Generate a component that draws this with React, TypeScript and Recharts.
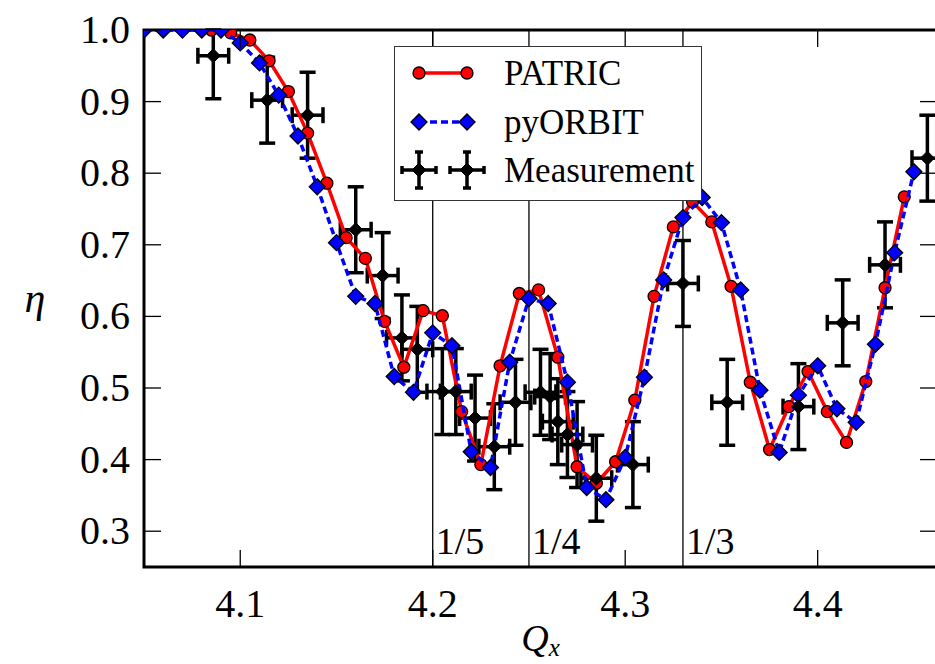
import React from 'react';
import { ScatterChart, Scatter, XAxis, YAxis, ReferenceLine, ReferenceArea, ErrorBar, Legend } from 'recharts';

// PATRIC simulation (red circles, solid line)
const patricQx = [
  4.085, 4.095, 4.105, 4.115, 4.125, 4.135, 4.145, 4.155, 4.165, 4.175,
  4.185, 4.195, 4.205, 4.215, 4.225, 4.235, 4.245, 4.255, 4.265, 4.275,
  4.285, 4.295, 4.305, 4.315, 4.325, 4.335, 4.345, 4.355, 4.365, 4.375,
  4.385, 4.395, 4.405, 4.415, 4.425, 4.435, 4.445,
];
const patricEta = [
  1.0, 0.996, 0.986, 0.957, 0.914, 0.856, 0.786, 0.71, 0.681, 0.593,
  0.529, 0.608, 0.601, 0.467, 0.393, 0.531, 0.632, 0.637, 0.543, 0.39,
  0.367, 0.397, 0.483, 0.628, 0.725, 0.76, 0.732, 0.642, 0.508, 0.414,
  0.474, 0.523, 0.467, 0.424, 0.509, 0.64, 0.767,
];

// pyORBIT simulation (blue diamonds, dashed line)
const pyorbitQx = [
  4.05, 4.06, 4.07, 4.08, 4.09, 4.1, 4.11, 4.12, 4.13, 4.14,
  4.15, 4.16, 4.17, 4.18, 4.19, 4.2, 4.21, 4.22, 4.23, 4.24,
  4.25, 4.26, 4.27, 4.28, 4.29, 4.3, 4.31, 4.32, 4.33, 4.34,
  4.35, 4.36, 4.37, 4.38, 4.39, 4.4, 4.41, 4.42, 4.43, 4.44, 4.45,
];
const pyorbitEta = [
  1.0, 1.0, 1.0, 1.0, 1.0, 0.982, 0.954, 0.909, 0.852, 0.781,
  0.703, 0.628, 0.618, 0.516, 0.494, 0.577, 0.559, 0.411, 0.389, 0.536,
  0.625, 0.618, 0.508, 0.361, 0.344, 0.403, 0.515, 0.651, 0.738, 0.766,
  0.731, 0.637, 0.497, 0.41, 0.49, 0.531, 0.471, 0.452, 0.561, 0.689, 0.802,
];

// Measured points with errors in both directions (eta cannot exceed 1)
const measQx = [
  4.086, 4.114, 4.135, 4.16, 4.174, 4.184, 4.192, 4.205, 4.212, 4.222,
  4.232, 4.243, 4.256, 4.261, 4.265, 4.27, 4.275, 4.285, 4.304, 4.33,
  4.353, 4.39, 4.413, 4.435, 4.457,
];
const measEta = [
  0.964, 0.902, 0.881, 0.721, 0.657, 0.57, 0.554, 0.495, 0.495, 0.458,
  0.418, 0.48, 0.494, 0.488, 0.453, 0.435, 0.421, 0.374, 0.393, 0.646,
  0.48, 0.474, 0.591, 0.672, 0.821,
];
const measQxErr = [
  0.008, 0.008, 0.008, 0.008, 0.008, 0.008, 0.008, 0.008, 0.008, 0.008,
  0.008, 0.008, 0.008, 0.008, 0.008, 0.008, 0.008, 0.008, 0.008, 0.008,
  0.008, 0.008, 0.008, 0.008, 0.008,
];
const measEtaErrLow = [
  0.06, 0.06, 0.06, 0.06, 0.06, 0.06, 0.06, 0.06, 0.06, 0.06,
  0.06, 0.06, 0.06, 0.06, 0.06, 0.06, 0.06, 0.06, 0.06, 0.06,
  0.06, 0.06, 0.06, 0.06, 0.06,
];
const measEtaErrHigh = [
  0.036, 0.06, 0.06, 0.06, 0.06, 0.06, 0.06, 0.06, 0.06, 0.06,
  0.06, 0.06, 0.06, 0.06, 0.06, 0.06, 0.06, 0.06, 0.06, 0.06,
  0.06, 0.06, 0.06, 0.06, 0.06,
];

const resonanceQx = [4.2, 4.25, 4.33];
const resonanceLabels = ['1/5', '1/4', '1/3'];

const xTicks = [4.1, 4.2, 4.3, 4.4];
const yTicks = [0.3, 0.4, 0.5, 0.6, 0.7, 0.8, 0.9, 1.0];

const patric = patricQx.map((qx, i) => ({ qx, eta: patricEta[i] }));
const pyorbit = pyorbitQx.map((qx, i) => ({ qx, eta: pyorbitEta[i] }));
const measurement = measQx.map((qx, i) => ({
  qx,
  eta: measEta[i],
  qxErr: measQxErr[i],
  etaErr: [measEtaErrLow[i], measEtaErrHigh[i]],
}));

const CHART_W = 940;
const CHART_H = 664;
const MARGIN = { top: 30, right: 3, bottom: 37, left: 0 };
const Y_AXIS_W = 144;
const X_AXIS_H = 60;
const PLOT = {
  left: MARGIN.left + Y_AXIS_W,
  right: CHART_W - MARGIN.right,
  top: MARGIN.top,
  bottom: CHART_H - MARGIN.bottom - X_AXIS_H,
};
const TICK_LEN = 17;
const SERIF = '"Liberation Serif", "Times New Roman", serif';

const diamondPoints = (cx: number, cy: number, h: number) =>
  `${cx},${cy - h} ${cx + h},${cy} ${cx},${cy + h} ${cx - h},${cy}`;

const RedCircle = ({ cx, cy }: any) => (
  <circle cx={cx} cy={cy} r={6} fill="#ff0000" stroke="#000" strokeWidth={1.3} />
);
const BlueDiamond = ({ cx, cy }: any) => (
  <polygon points={diamondPoints(cx, cy, 8)} fill="#0000ff" stroke="#000" strokeWidth={1.3} />
);
const BlackDiamond = ({ cx, cy }: any) => (
  <polygon points={diamondPoints(cx, cy, 7)} fill="#000" stroke="#000" strokeWidth={1} />
);

// ticks point inward on all four sides
const XTick = ({ x, payload }: any) => (
  <g>
    <line x1={x} x2={x} y1={PLOT.bottom} y2={PLOT.bottom - TICK_LEN} stroke="#000" strokeWidth={1.3} />
    <line x1={x} x2={x} y1={PLOT.top} y2={PLOT.top + TICK_LEN} stroke="#000" strokeWidth={1.3} />
    <text x={x} y={PLOT.bottom + 50} textAnchor="middle" fontFamily={SERIF} fontSize={40} fill="#000">
      {Number(payload.value).toFixed(1)}
    </text>
  </g>
);

const YTick = ({ y, payload }: any) => (
  <g>
    <line x1={PLOT.left} x2={PLOT.left + TICK_LEN} y1={y} y2={y} stroke="#000" strokeWidth={1.3} />
    <line x1={PLOT.right - TICK_LEN} x2={PLOT.right} y1={y} y2={y} stroke="#000" strokeWidth={1.3} />
    <text x={PLOT.left - 14} y={y + 13} textAnchor="end" fontFamily={SERIF} fontSize={40} fill="#000">
      {Number(payload.value).toFixed(1)}
    </text>
  </g>
);

const ResonanceLabel = (text: string) => (props: any) => {
  const x = props.viewBox ? props.viewBox.x : 0;
  return (
    <text x={x + 3} y={PLOT.bottom - 13} fontFamily={SERIF} fontSize={38} fill="#000">
      {text}
    </text>
  );
};

const MeasMarker = ({ cx, cy }: { cx: number; cy: number }) => (
  <g stroke="#000" strokeWidth={3.5}>
    <line x1={cx} x2={cx} y1={cy - 18} y2={cy + 18} />
    <line x1={cx - 17} x2={cx + 17} y1={cy} y2={cy} />
    <line x1={cx - 4} x2={cx + 4} y1={cy - 18} y2={cy - 18} />
    <line x1={cx - 4} x2={cx + 4} y1={cy + 18} y2={cy + 18} />
    <line x1={cx - 17} x2={cx - 17} y1={cy - 4} y2={cy + 4} />
    <line x1={cx + 17} x2={cx + 17} y1={cy - 4} y2={cy + 4} />
    <polygon points={diamondPoints(cx, cy, 7)} fill="#000" strokeWidth={1} />
  </g>
);

const LegendBox = () => {
  const rows = [26, 75, 123];
  const x1 = 24;
  const x2 = 72;
  const textX = 109;
  return (
    <div style={{ width: 308, height: 155, background: '#fff', border: '1px solid #333', boxSizing: 'border-box' }}>
      <svg width={306} height={153} style={{ display: 'block' }}>
        <line x1={x1} x2={x2} y1={rows[0]} y2={rows[0]} stroke="#ff0000" strokeWidth={3.5} />
        <RedCircle cx={x1} cy={rows[0]} />
        <RedCircle cx={x2} cy={rows[0]} />
        <line x1={x1} x2={x2} y1={rows[1]} y2={rows[1]} stroke="#0000ff" strokeWidth={3.5} strokeDasharray="7 4" />
        <BlueDiamond cx={x1} cy={rows[1]} />
        <BlueDiamond cx={x2} cy={rows[1]} />
        <MeasMarker cx={x1} cy={rows[2]} />
        <MeasMarker cx={x2} cy={rows[2]} />
        {['PATRIC', 'pyORBIT', 'Measurement'].map((label, i) => (
          <text key={label} x={textX} y={rows[i] + 12} fontFamily={SERIF} fontSize={35} fill="#000">
            {label}
          </text>
        ))}
      </svg>
    </div>
  );
};

export default function App() {
  return (
    <div style={{ position: 'absolute', left: 0, top: 0, width: 935, height: 664, overflow: 'hidden', background: '#fff' }}>
      <ScatterChart width={CHART_W} height={CHART_H} margin={MARGIN}>
        <XAxis
          type="number"
          dataKey="qx"
          domain={[4.05, 4.462]}
          ticks={xTicks}
          interval={0}
          allowDataOverflow
          height={X_AXIS_H}
          axisLine={false}
          tickLine={false}
          tick={<XTick />}
          label={{
            content: () => (
              <text x={(PLOT.left + PLOT.right) / 2} y={651} textAnchor="middle" fontFamily={SERIF} fontStyle="italic" fontSize={38} fill="#000">
                Q<tspan fontSize={25} dy={5}>x</tspan>
              </text>
            ),
          }}
        />
        <YAxis
          type="number"
          dataKey="eta"
          domain={[0.25, 1.0]}
          ticks={yTicks}
          interval={0}
          allowDataOverflow
          width={Y_AXIS_W}
          axisLine={false}
          tickLine={false}
          tick={<YTick />}
          label={{
            content: () => (
              <text x={35} y={312} textAnchor="middle" fontFamily={SERIF} fontStyle="italic" fontSize={42} fill="#000">
                η
              </text>
            ),
          }}
        />
        {resonanceQx.map((qx, i) => (
          <ReferenceLine key={qx} x={qx} stroke="#000" strokeWidth={1.3} label={ResonanceLabel(resonanceLabels[i])} />
        ))}
        <Scatter
          name="PATRIC"
          data={patric}
          fill="#ff0000"
          line={{ stroke: '#ff0000', strokeWidth: 3.5 }}
          shape={RedCircle}
          isAnimationActive={false}
        />
        <Scatter
          name="pyORBIT"
          data={pyorbit}
          fill="#0000ff"
          line={{ stroke: '#0000ff', strokeWidth: 3.5, strokeDasharray: '7 4' }}
          shape={BlueDiamond}
          isAnimationActive={false}
        />
        <Scatter name="Measurement" data={measurement} fill="#000" shape={BlackDiamond} isAnimationActive={false}>
          <ErrorBar dataKey="etaErr" direction="y" width={8} stroke="#000" strokeWidth={3.5} />
          <ErrorBar dataKey="qxErr" direction="x" width={8} stroke="#000" strokeWidth={3.5} />
        </Scatter>
        <ReferenceArea x1={4.05} x2={4.462} y1={0.25} y2={1.0} fill="none" stroke="#000" strokeWidth={3} />
        <Legend
          layout="vertical"
          align="center"
          verticalAlign="middle"
          wrapperStyle={{ left: 394, top: 46, width: 308, height: 155 }}
          content={() => <LegendBox />}
        />
      </ScatterChart>
    </div>
  );
}
